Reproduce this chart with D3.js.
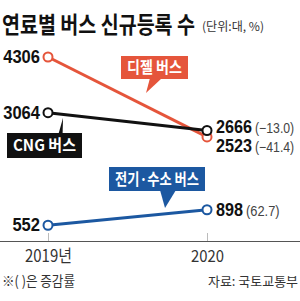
<!DOCTYPE html>
<html>
<head>
<meta charset="utf-8">
<script src="https://cdn.jsdelivr.net/npm/d3@7"></script>
<style>
  body { margin: 0; background: #fff; }
  svg { display: block; font-family: "Noto Sans CJK KR", "Liberation Sans", sans-serif; }
</style>
</head>
<body>
<svg id="chart"></svg>
<script>
var years = ['2019년', '2020']
var seriesNames = ['디젤 버스', 'CNG 버스', '전기·수소 버스']
var dieselVals = [4306, 2523]
var cngVals = [3064, 2666]
var elecVals = [552, 898]
var changeRates = ['−41.4', '−13.0', '62.7']

var width = 300, height = 301

var svg = d3.select('#chart')
  .attr('width', width)
  .attr('height', height)

var x = d3.scalePoint()
  .domain(years)
  .range([48, 207])

var y = d3.scaleLinear()
  .domain([0, 4306])
  .range([250, 57])

var series = [
  {name: seriesNames[0], vals: dieselVals, rate: changeRates[0], color: '#e5553b', dy: [6, 15]},
  {name: seriesNames[1], vals: cngVals, rate: changeRates[1], color: '#111111', dy: [6, 2]},
  {name: seriesNames[2], vals: elecVals, rate: changeRates[2], color: '#1c58a1', dy: [6, 6]}
]

// title
svg.append('text')
  .attr('x', 2).attr('y', 33)
  .attr('font-size', 23).attr('font-weight', 700)
  .attr('fill', '#111')
  .attr('textLength', 193).attr('lengthAdjust', 'spacingAndGlyphs')
  .text('연료별 버스 신규등록 수')

svg.append('text')
  .attr('x', 202).attr('y', 31)
  .attr('font-size', 12)
  .attr('fill', '#333')
  .attr('textLength', 62).attr('lengthAdjust', 'spacingAndGlyphs')
  .text('(단위:대, %)')

// axis
var axis = svg.append('g')
  .attr('transform', 'translate(0,241)')
  .call(d3.axisBottom(x).tickSizeInner(-8).tickSizeOuter(0).tickPadding(16))
axis.select('.domain').remove()
axis.selectAll('.tick line').attr('stroke', '#bbb')
axis.selectAll('.tick text')
  .attr('font-size', 17)
  .attr('fill', '#333')
  .attr('font-family', '"Liberation Sans Narrow", "Noto Sans CJK KR", sans-serif')
  .attr('textLength', (d, i) => i == 0 ? 47 : 33)
  .attr('lengthAdjust', 'spacingAndGlyphs')
  .attr('dy', 0).attr('y', 21)

svg.append('line')
  .attr('x1', 0).attr('x2', width)
  .attr('y1', 241.5).attr('y2', 241.5)
  .attr('stroke', '#555').attr('stroke-width', 1)

// lines
var line = d3.line()
  .x((d, i) => x(years[i]))
  .y(d => y(d))

series.forEach(s => {
  svg.append('path')
    .datum(s.vals)
    .attr('d', line)
    .attr('fill', 'none')
    .attr('stroke', s.color)
    .attr('stroke-width', 3)
})

series.forEach(s => {
  svg.selectAll(null)
    .data(s.vals)
    .enter()
    .append('circle')
      .attr('cx', (d, i) => x(years[i]))
      .attr('cy', d => y(d))
      .attr('r', 4.5)
      .attr('fill', '#fff')
      .attr('stroke', s.color)
      .attr('stroke-width', 2)
})

// value labels
var numFont = '"Liberation Sans Narrow", "Liberation Sans", sans-serif'
series.forEach(s => {
  svg.append('text')
    .attr('x', x(years[0]) - 8)
    .attr('y', y(s.vals[0]) + s.dy[0])
    .attr('text-anchor', 'end')
    .attr('font-family', numFont)
    .attr('font-size', 19).attr('font-weight', 700)
    .attr('fill', '#111')
    .attr('textLength', String(s.vals[0]).length * 9.2)
    .attr('lengthAdjust', 'spacingAndGlyphs')
    .text(s.vals[0])

  var numW = String(s.vals[1]).length * 9
  var nx = x(years[1]) + 9
  svg.append('text')
    .attr('x', nx)
    .attr('y', y(s.vals[1]) + s.dy[1])
    .attr('font-family', numFont)
    .attr('font-size', 19).attr('font-weight', 700)
    .attr('fill', '#111')
    .attr('textLength', numW)
    .attr('lengthAdjust', 'spacingAndGlyphs')
    .text(s.vals[1])

  svg.append('text')
    .attr('x', nx + numW + 3)
    .attr('y', y(s.vals[1]) + s.dy[1])
    .attr('font-family', numFont)
    .attr('font-size', 14)
    .attr('fill', '#444')
    .attr('textLength', (s.rate.length + 2) * 5.6)
    .attr('lengthAdjust', 'spacingAndGlyphs')
    .text('(' + s.rate + ')')
})

// callouts
function callout(bx, by, bw, bh, tip, base, color, label) {
  svg.append('path')
    .attr('d', 'M' + base[0] + ',' + (by + bh - 1) + 'L' + tip[0] + ',' + tip[1] + 'L' + base[1] + ',' + (by + bh - 1) + 'Z')
    .attr('fill', color)
  svg.append('rect')
    .attr('x', bx).attr('y', by)
    .attr('width', bw).attr('height', bh)
    .attr('fill', color)
  svg.append('text')
    .attr('x', bx + bw / 2).attr('y', by + bh / 2 + 5.5)
    .attr('text-anchor', 'middle')
    .attr('font-size', 16).attr('font-weight', 700)
    .attr('fill', '#fff')
    .attr('textLength', bw - 12).attr('lengthAdjust', 'spacingAndGlyphs')
    .text(label)
}

callout(121, 56, 67, 23, [146, 93], [150, 162], series[0].color, series[0].name)
callout(7, 133, 75, 25, [63, 118], [52, 62], series[1].color, series[1].name)
callout(109, 167, 96, 24, [165, 208], [160, 176], series[2].color, series[2].name)

// notes
svg.append('text')
  .attr('x', 2).attr('y', 286)
  .attr('font-size', 14).attr('fill', '#333')
  .attr('textLength', 73).attr('lengthAdjust', 'spacingAndGlyphs')
  .text('※( )은 증감률')

svg.append('text')
  .attr('x', 208).attr('y', 286)
  .attr('font-size', 13).attr('fill', '#333')
  .attr('textLength', 90).attr('lengthAdjust', 'spacingAndGlyphs')
  .text('자료: 국토교통부')
</script>
</body>
</html>
